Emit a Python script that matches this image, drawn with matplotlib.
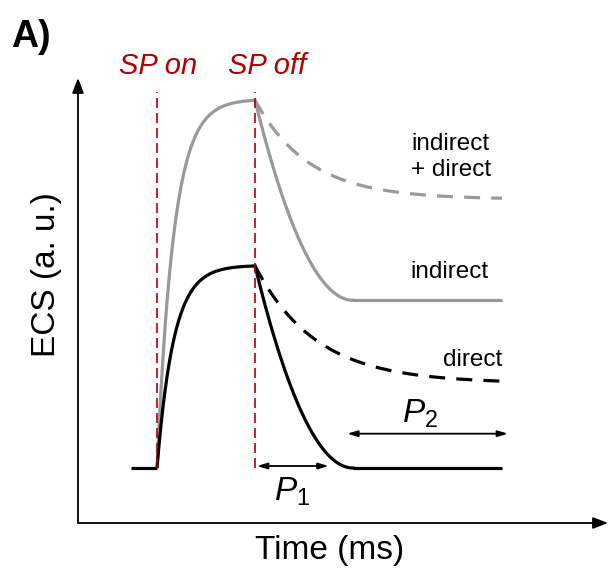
import numpy as np
import matplotlib.pyplot as plt

plt.rcParams['font.family'] = ['Liberation Sans', 'DejaVu Sans']
plt.rcParams['mathtext.fontset'] = 'custom'
plt.rcParams['mathtext.rm'] = 'Liberation Sans'
plt.rcParams['mathtext.it'] = 'Liberation Sans:italic'

# schematic parameters (time in a.u., SP on at 0, SP off at 100)
t_on, t_off, t_flat, t_end = 0, 100, 200, 352
t_start = -27
peak_levels = {'gray': 1.82, 'black': 1.0}
plateau_levels = {'gray': 0.83, 'black': 0.0}      # solid "indirect" / final
slow_levels = {'gray': 1.33, 'black': 0.42}        # dashed asymptotes
tau_rise = 17
tau_slow = {'gray': 55, 'black': 62}

gray = '#999999'
red = '#b00000'
lw = 2.3

fig = plt.figure(figsize=(6.08, 5.70), dpi=100)
ax = fig.add_axes([78/608, 47/570, 530/608, 445/570])
ax.set_xlim(-80.6, 460)
ax.set_ylim(-0.272, 1.93)
ax.axis('off')

t_rise = np.linspace(t_on, t_off, 200)
t_fast = np.linspace(t_off, t_flat, 200)
t_slow = np.linspace(t_off, t_end, 300)

for key, col in [('gray', gray), ('black', 'k')]:
    pk, pl, sl = peak_levels[key], plateau_levels[key], slow_levels[key]
    rise = pk * (1 - np.exp(-t_rise / tau_rise)) / (1 - np.exp(-t_off / tau_rise))
    fast = pl + (pk - pl) * ((t_flat - t_fast) / (t_flat - t_off)) ** 2
    slow = sl + (pk - sl) * np.exp(-(t_slow - t_off) / tau_slow[key])
    ax.plot(t_rise, rise, color=col, lw=lw, solid_capstyle='butt')
    ax.plot(t_fast, fast, color=col, lw=lw)
    ax.plot([t_flat, t_end], [pl, pl], color=col, lw=lw, solid_capstyle='butt')
    ax.plot(t_slow, slow, color=col, lw=lw, dashes=(5, 3.5))

ax.plot([t_start, t_on], [0, 0], color='k', lw=lw, solid_capstyle='butt')

# SP on / off markers
for t in (t_on, t_off):
    ax.plot([t, t], [0, 1.86], color=red, lw=1.2, dashes=(6, 3))
ax.text(t_on + 1, 1.99, 'SP on', color=red, fontsize=21, style='italic',
        ha='center', va='center', clip_on=False)
ax.text(t_off + 12, 1.99, 'SP off', color=red, fontsize=21, style='italic',
        ha='center', va='center', clip_on=False)

# axes arrows
arrow = dict(arrowstyle='-|>,head_length=0.9,head_width=0.35', color='k', lw=1.3,
             shrinkA=0, shrinkB=0)
ax.annotate('', xy=(1, 0), xytext=(0, 0), xycoords='axes fraction', arrowprops=arrow)
ax.annotate('', xy=(0, 1), xytext=(0, 0), xycoords='axes fraction', arrowprops=arrow)

# P1 / P2 brackets
darrow = dict(arrowstyle='<|-|>,head_length=0.6,head_width=0.18', color='k', lw=1.3,
              shrinkA=0, shrinkB=0)
ax.annotate('', xy=(t_off + 2, 0.01), xytext=(175, 0.01), arrowprops=darrow)
ax.annotate('', xy=(194, 0.17), xytext=(358, 0.17), arrowprops=darrow)
ax.text(138, -0.12, r'$P_\mathit{1}$', fontsize=24, ha='center', va='center')
ax.text(268, 0.27, r'$P_\mathit{2}$', fontsize=24, ha='center', va='center')

# curve labels
ax.text(259, 1.54, 'indirect\n+ direct', fontsize=17.5, ha='left', va='center',
        linespacing=1.25)
ax.text(338, 0.97, 'indirect', fontsize=17.5, ha='right', va='center')
ax.text(352, 0.535, 'direct', fontsize=17.5, ha='right', va='center')

fig.text(11/608, 1 - 37/570, 'A)', fontsize=27, fontweight='bold', va='center')
fig.text(330/608, 1 - 551/570, 'Time (ms)', fontsize=24, ha='center', va='center')
fig.text(47/608, 1 - 275/570, 'ECS (a. u.)', fontsize=24, ha='center', va='center',
         rotation=90)

fig.savefig('out.png', dpi=100)
